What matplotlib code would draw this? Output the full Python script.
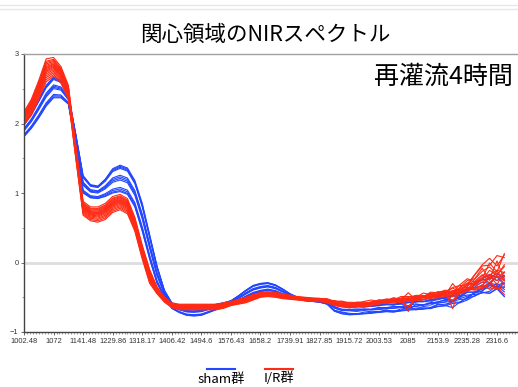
import numpy as np
import matplotlib.pyplot as plt
from matplotlib.lines import Line2D
from matplotlib.ticker import MultipleLocator

plt.rcParams['font.family'] = ['Noto Sans CJK JP', 'DejaVu Sans']

# 波長ラベル（4サンプルごとに1つ）
wavelength_labels = ['1002.48', '1072', '1141.48', '1229.86', '1318.17', '1406.42',
                     '1494.6', '1576.43', '1658.2', '1739.91', '1827.85', '1915.72',
                     '2003.53', '2085', '2153.9', '2235.28', '2316.6']
samples_per_label = 4

# sham群 スペクトルの上下の包絡線
sham_upper = [2.00, 2.15, 2.35, 2.55,
              2.67, 2.62, 2.42, 1.85,
              1.25, 1.12, 1.10, 1.20,
              1.35, 1.40, 1.36, 1.18,
              0.85, 0.40, -0.05, -0.40,
              -0.58, -0.63, -0.65, -0.65,
              -0.64, -0.62, -0.60, -0.58,
              -0.55, -0.48, -0.40, -0.33,
              -0.30, -0.29, -0.32, -0.38,
              -0.45, -0.50, -0.52, -0.53,
              -0.53, -0.55, -0.60, -0.62,
              -0.63, -0.63, -0.62, -0.62,
              -0.61, -0.60, -0.60, -0.58,
              -0.57, -0.56, -0.55, -0.54,
              -0.52, -0.50, -0.48, -0.44,
              -0.40, -0.35, -0.30, -0.25,
              -0.22, -0.25]
sham_lower = [1.81, 1.93, 2.08, 2.25,
              2.37, 2.37, 2.28, 1.70,
              1.00, 0.93, 0.92, 0.95,
              1.00, 1.02, 0.98, 0.80,
              0.45, 0.05, -0.30, -0.50,
              -0.66, -0.72, -0.76, -0.77,
              -0.76, -0.72, -0.68, -0.63,
              -0.60, -0.55, -0.50, -0.45,
              -0.42, -0.40, -0.42, -0.46,
              -0.50, -0.53, -0.55, -0.56,
              -0.57, -0.60, -0.70, -0.74,
              -0.75, -0.75, -0.74, -0.73,
              -0.72, -0.71, -0.71, -0.70,
              -0.69, -0.68, -0.67, -0.66,
              -0.63, -0.62, -0.60, -0.57,
              -0.52, -0.49, -0.45, -0.42,
              -0.40, -0.45]

# I/R群 スペクトルの上下の包絡線
ir_upper = [2.17, 2.35, 2.62, 2.93,
            2.95, 2.82, 2.55, 1.70,
            0.88, 0.80, 0.80, 0.85,
            0.95, 0.98, 0.92, 0.65,
            0.25, -0.10, -0.35, -0.50,
            -0.58, -0.60, -0.60, -0.60,
            -0.60, -0.60, -0.60, -0.58,
            -0.56, -0.53, -0.50, -0.46,
            -0.43, -0.42, -0.43, -0.45,
            -0.47, -0.49, -0.50, -0.51,
            -0.52, -0.53, -0.55, -0.57,
            -0.58, -0.58, -0.57, -0.56,
            -0.55, -0.54, -0.52, -0.51,
            -0.50, -0.49, -0.47, -0.45,
            -0.44, -0.42, -0.40, -0.36,
            -0.30, -0.24, -0.15, -0.08,
            -0.02, 0.02]
ir_lower = [1.98, 2.12, 2.35, 2.60,
            2.68, 2.58, 2.35, 1.50,
            0.68, 0.60, 0.58, 0.62,
            0.72, 0.76, 0.70, 0.45,
            0.05, -0.30, -0.45, -0.57,
            -0.65, -0.68, -0.68, -0.68,
            -0.68, -0.68, -0.68, -0.66,
            -0.62, -0.60, -0.58, -0.54,
            -0.50, -0.49, -0.50, -0.52,
            -0.53, -0.54, -0.55, -0.56,
            -0.56, -0.58, -0.62, -0.64,
            -0.65, -0.64, -0.63, -0.62,
            -0.60, -0.59, -0.58, -0.57,
            -0.56, -0.55, -0.53, -0.52,
            -0.50, -0.49, -0.48, -0.45,
            -0.42, -0.39, -0.35, -0.35,
            -0.38, -0.40]

# 各個体の包絡線内での位置（0=下, 1=上）
sham_levels = [1.0, 0.96, 0.92, 0.88, 0.62, 0.56, 0.5, 0.44, 0.16, 0.1, 0.04, 0.0]
ir_levels = [1.0, 0.9, 0.84, 0.78, 0.72, 0.66, 0.62, 0.57, 0.52, 0.47, 0.41, 0.34,
             0.26, 0.18, 0.09, 0.0]

# 長波長側（サンプル40以降）のノイズ
tail_start = 40
tail_wiggles = [
    [0, .01, -.01, .015, 0, -.015, .01, .02, -.01, .015, -.02, .02, .01,
     -.02, .03, -.01, .02, -.03, .04, .03, -.04, .06, .1, .04, .12, .05],
    [.01, -.01, .01, -.005, .015, .01, -.01, -.02, .015, -.01, .02, -.015, -.2,
     .02, -.02, .03, .01, .03, -.02, .05, .08, -.03, -.06, .1, -.08, .15],
    [-.01, .01, 0, .01, -.01, .02, .01, -.01, .02, .01, -.01, .01, .02,
     .01, -.02, .02, -.03, .01, -.25, .02, .06, .03, .1, -.12, .1, -.2],
    [0, -.01, .01, .02, -.01, .01, -.02, .01, 0, .02, .01, -.01, .01,
     .03, .01, -.03, .03, .02, .05, -.04, .02, .1, .16, .2, .05, .18],
]
sham_noise = [(0, .5), (1, .4), (2, .3), (3, .5), (0, -.5), (1, .3),
              (3, -.4), (2, -.3), (0, .6), (3, .4), (1, -.3), (2, .2)]
ir_noise = [(0, 1), (1, 1), (2, 1), (3, 1), (0, -.8), (1, .6), (3, -.7), (2, .5),
            (0, .7), (3, .8), (1, -.5), (2, -.6), (3, .5), (0, -.6), (1, .4), (2, .3)]

blue = '#2346ff'
red = '#ff2a14'


def group_curves(upper, lower, levels, noise):
    upper = np.array(upper)
    lower = np.array(lower)
    curves = []
    for lv, (k, s) in zip(levels, noise):
        y = lower + lv * (upper - lower)
        y[tail_start:] += s * np.array(tail_wiggles[k])
        curves.append(y)
    return curves


x = np.arange(len(sham_upper)) / samples_per_label

fig = plt.figure(figsize=(5.18, 3.87), dpi=100)
ax = fig.add_axes([24 / 518, 55 / 387, 1 - 24 / 518, 278 / 387])

ax.axhline(0, color='#dddddd', lw=2, zorder=0)
for y in group_curves(sham_upper, sham_lower, sham_levels, sham_noise):
    ax.plot(x, y, color=blue, lw=0.8)
for y in group_curves(ir_upper, ir_lower, ir_levels, ir_noise):
    ax.plot(x, y, color=red, lw=0.8)

ax.set_xlim(0, (518 - 24) / 29.56)
ax.set_ylim(-1, 3)
ax.set_xticks(range(len(wavelength_labels)))
ax.set_xticklabels(wavelength_labels)
ax.xaxis.set_minor_locator(MultipleLocator(0.1))
ax.set_yticks([-1, 0, 1, 2, 3])
ax.yaxis.set_minor_locator(MultipleLocator(0.5))
ax.tick_params(axis='both', which='major', length=2.5, width=0.6, color='#555555',
               labelsize=5.4, labelcolor='#333333', pad=1.5)
ax.tick_params(axis='both', which='minor', length=1.5, width=0.5, color='#777777')
for lab in ax.get_xticklabels() + ax.get_yticklabels():
    lab.set_family('Liberation Sans')

ax.spines['right'].set_visible(False)
ax.spines['top'].set_color('#a0a0a0')
ax.spines['top'].set_linewidth(1.0)
for side in ['left', 'bottom']:
    ax.spines[side].set_color('#444444')
    ax.spines[side].set_linewidth(1.0)

# スライド上端の線
for yy in [5, 9.3]:
    fig.add_artist(Line2D([0, 1], [1 - yy / 387] * 2, color='#e6e6e6', lw=1))

fig.text(265.5 / 518, 1 - 35 / 387, '関心領域のNIRスペクトル', ha='center', va='center',
         fontsize=15.5, color='black')
fig.text(513 / 518, 1 - 77 / 387, '再灌流4時間', ha='right', va='center',
         fontsize=18, color='black')

# 凡例
legend_items = [('sham群', blue, 207, 235), ('I/R群', red, 265, 293)]
for label, col, x0, x1 in legend_items:
    fig.add_artist(Line2D([x0 / 518, x1 / 518], [1 - 369 / 387] * 2, color=col, lw=1.5))
    fig.text((x0 + x1) / 2 / 518, 1.5 / 387, label, ha='center', va='bottom',
             fontsize=9.5, color='black')

fig.savefig('out.png', dpi=100)
